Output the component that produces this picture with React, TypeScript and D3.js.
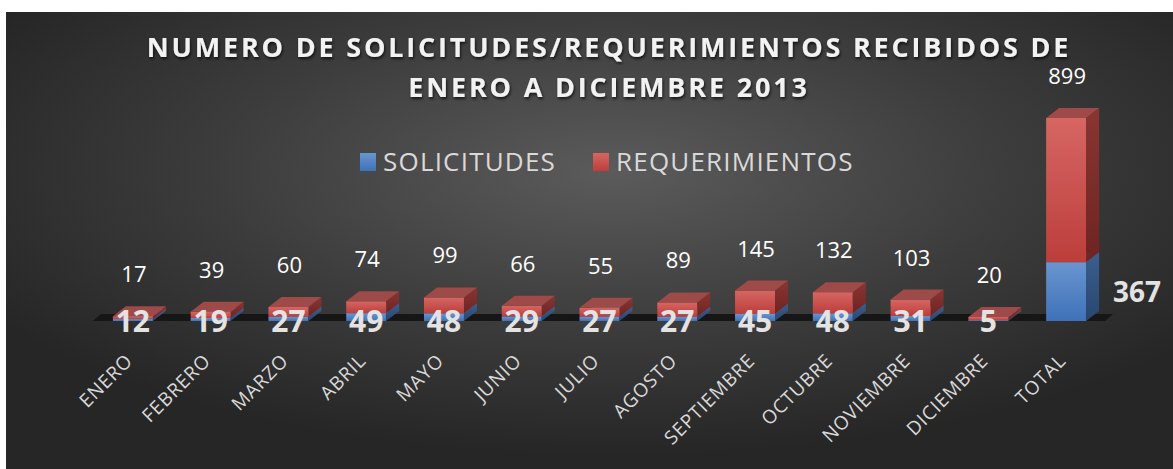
import React from 'react';
import * as d3 from 'd3';

const categories = ['ENERO', 'FEBRERO', 'MARZO', 'ABRIL', 'MAYO', 'JUNIO', 'JULIO', 'AGOSTO', 'SEPTIEMBRE', 'OCTUBRE', 'NOVIEMBRE', 'DICIEMBRE', 'TOTAL'];
const solicitudes = [12, 19, 27, 49, 48, 29, 27, 27, 45, 48, 31, 5, 367];
const requerimientos = [17, 39, 60, 74, 99, 66, 55, 89, 145, 132, 103, 20, 899];
const seriesNames = ['SOLICITUDES', 'REQUERIMIENTOS'];
const titleLines = ['NUMERO DE SOLICITUDES/REQUERIMIENTOS RECIBIDOS DE', 'ENERO A DICIEMBRE 2013'];

const W = 1173;
const H = 469;
const DX = 13; // depth of the 3d boxes
const DY = 10;
const FONT = "'Open Sans', 'DejaVu Sans', sans-serif";

const App = () => {
  const x = d3.scaleBand().domain(categories).range([94, 1105]).paddingInner(0.486).paddingOuter(0.243);
  const y = d3.scaleLinear().domain([0, 1266]).range([321, 118]);
  const bw = x.bandwidth();

  const box = (x0: number, yTop: number, yBot: number, c: string, key: string) => {
    const x1 = x0 + bw;
    return (
      <g key={key}>
        <rect x={x0} y={yTop} width={bw} height={Math.max(0, yBot - yTop)} fill={`url(#front-${c})`} />
        <path d={`M${x1},${yBot}L${x1 + DX},${yBot - DY}L${x1 + DX},${yTop - DY}L${x1},${yTop}Z`} fill={`url(#side-${c})`} />
        <path d={`M${x0},${yTop}L${x0 + DX},${yTop - DY}L${x1 + DX},${yTop - DY}L${x1},${yTop}Z`} fill={c === 'red' ? '#9d4a48' : '#5a7fb0'} />
      </g>
    );
  };

  const first = x(categories[0]) ?? 0;
  const last = (x(categories[categories.length - 1]) ?? 0) + bw;

  return (
    <div style={{ position: 'absolute', left: 0, top: 0, width: W, height: H, background: '#fff' }}>
      <svg width={W} height={H} style={{ display: 'block' }}>
        <defs>
          <radialGradient id="bg" cx="52%" cy="35%" r="62%" fx="52%" fy="35%">
            <stop offset="0%" stopColor="#5b5b5b" />
            <stop offset="55%" stopColor="#3c3c3c" />
            <stop offset="100%" stopColor="#262626" />
          </radialGradient>
          <linearGradient id="front-red" x1="0" y1="0" x2="0" y2="1">
            <stop offset="0%" stopColor="#d66663" />
            <stop offset="100%" stopColor="#bc3e3b" />
          </linearGradient>
          <linearGradient id="front-blue" x1="0" y1="0" x2="0" y2="1">
            <stop offset="0%" stopColor="#6a95d0" />
            <stop offset="100%" stopColor="#3e72b8" />
          </linearGradient>
          <linearGradient id="side-red" x1="0" y1="0" x2="0" y2="1">
            <stop offset="0%" stopColor="#8a3532" />
            <stop offset="100%" stopColor="#6e2422" />
          </linearGradient>
          <linearGradient id="side-blue" x1="0" y1="0" x2="0" y2="1">
            <stop offset="0%" stopColor="#3b5f8f" />
            <stop offset="100%" stopColor="#284670" />
          </linearGradient>
          <filter id="shadow" x="-5%" y="-30%" width="110%" height="160%">
            <feDropShadow dx="1" dy="2" stdDeviation="1.5" floodColor="#000" floodOpacity="0.7" />
          </filter>
        </defs>

        <rect x={6} y={12} width={W - 6} height={H - 12} fill="url(#bg)" />

        <g fontFamily={FONT} fontWeight="bold" fill="#f2f2f2" textAnchor="middle" filter="url(#shadow)">
          {titleLines.map((t, i) => (
            <text key={t} x={609} y={57 + i * 40} fontSize={27} letterSpacing={2.8}>{t}</text>
          ))}
        </g>

        <g fontFamily={FONT} fontSize={26} fill="#d9d9d9" letterSpacing={1.2}>
          {seriesNames.map((s, i) => {
            const lx = i === 0 ? 360 : 593;
            return (
              <g key={s}>
                <rect x={lx} y={153} width={16} height={18} fill={i === 0 ? 'url(#front-blue)' : 'url(#front-red)'} />
                <text x={lx + 23} y={171}>{s}</text>
              </g>
            );
          })}
        </g>

        <path d={`M${first - 20},${y(0)}L${first - 12},${y(0) - 7}L${last + DX + 14},${y(0) - 7}L${last + DX + 6},${y(0)}Z`} fill="#161616" />

        {categories.map((c, i) => {
          const x0 = x(c) ?? 0;
          const s = solicitudes[i];
          const r = requerimientos[i];
          return (
            <g key={c}>
              {box(x0, y(s), y(0), 'blue', 'b')}
              {box(x0, y(s + r), y(s), 'red', 'r')}
            </g>
          );
        })}

        <g fontFamily={FONT} fontSize={22} fill="#ffffff" textAnchor="middle">
          {categories.map((c, i) => (
            <text key={c} x={(x(c) ?? 0) + bw / 2 + 1} y={y(solicitudes[i] + requerimientos[i]) - DY - 24}>{requerimientos[i]}</text>
          ))}
        </g>

        <g fontFamily={FONT} fontWeight="bold" fill="#e3e3e3" textAnchor="middle">
          {categories.map((c, i) => i < categories.length - 1 ? (
            <text key={c} x={(x(c) ?? 0) + bw / 2} y={y(0) + 11} fontSize={30}>{solicitudes[i]}</text>
          ) : (
            <text key={c} x={(x(c) ?? 0) + bw + DX + 14} y={(y(solicitudes[i]) + y(0)) / 2 + 10} fontSize={28} textAnchor="start">{solicitudes[i]}</text>
          ))}
        </g>

        <g fontFamily={FONT} fontSize={19} fill="#d9d9d9" textAnchor="end" letterSpacing={0.8}>
          {categories.map((c) => {
            const px = (x(c) ?? 0) + bw / 2 + 1;
            const py = y(0) + 41;
            return (
              <text key={c} x={px} y={py} transform={`rotate(-45, ${px}, ${py})`}>{c}</text>
            );
          })}
        </g>
      </svg>
    </div>
  );
};

export default App;
